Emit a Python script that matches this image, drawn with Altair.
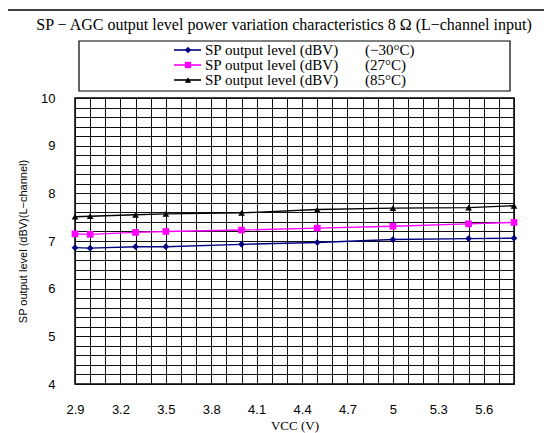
import altair as alt
import pandas as pd

# ---- data ----
vcc = [2.9, 3.0, 3.3, 3.5, 4.0, 4.5, 5.0, 5.5, 5.8]
level_m30 = [6.86, 6.85, 6.88, 6.88, 6.93, 6.97, 7.03, 7.05, 7.06]
level_27 = [7.15, 7.14, 7.18, 7.20, 7.23, 7.27, 7.31, 7.36, 7.39]
level_85 = [7.51, 7.52, 7.55, 7.57, 7.59, 7.66, 7.69, 7.70, 7.74]

series_names = ["SP output level (dBV)  (−30°C)",
                "SP output level (dBV)  (27°C)",
                "SP output level (dBV)  (85°C)"]
legend_left = ["SP output level (dBV)"] * 3
legend_right = ["(−30°C)", "(27°C)", "(85°C)"]
colors = ["#000080", "#FF00FF", "#000000"]
shapes = ["diamond", "square", "triangle-up"]

x_grid = [round(2.9 + 0.1 * i, 1) for i in range(30)]
y_grid = [round(4 + 0.2 * i, 1) for i in range(31)]

title_text = "SP − AGC output level power variation characteristics 8 Ω (L−channel input)"
x_title = "VCC (V)"
y_title = "SP output level  (dBV)(L−channel)"

rows = []
for name, vals in zip(series_names, [level_m30, level_27, level_85]):
    for xv, yv in zip(vcc, vals):
        rows.append({"series": name, "vcc": xv, "level": yv})
df = pd.DataFrame(rows)

color_scale = alt.Scale(domain=series_names, range=colors)
shape_scale = alt.Scale(domain=series_names, range=shapes)

x_enc = alt.X("vcc:Q", scale=alt.Scale(domain=[2.9, 5.8], nice=False, zero=False),
              axis=alt.Axis(values=x_grid, format=".1~f",
                            labelExpr="(round((datum.value - 2.9) * 10) % 3 == 0) ? datum.label : ''",
                            grid=True, gridColor="#111111", gridWidth=1, gridOpacity=1,
                            ticks=False, tickSize=0, domain=False, labelFlush=False,
                            labelOverlap=False, labelFont="Liberation Sans", labelFontSize=13,
                            labelColor="#000000", labelPadding=19,
                            title=x_title, titleFont="Liberation Serif", titleFontSize=13,
                            titleFontWeight="normal", titleColor="#000000", titlePadding=3))
y_enc = alt.Y("level:Q", scale=alt.Scale(domain=[4, 10], nice=False, zero=False),
              axis=alt.Axis(values=y_grid, format=".1~f",
                            labelExpr="(abs(datum.value - round(datum.value)) < 0.001) ? datum.label : ''",
                            grid=True, gridColor="#111111", gridWidth=1, gridOpacity=1,
                            ticks=False, tickSize=0, domain=False,
                            labelOverlap=False, labelFont="Liberation Sans", labelFontSize=13,
                            labelColor="#000000", labelPadding=20,
                            title=y_title, titleFont="Liberation Sans", titleFontSize=11,
                            titleFontWeight="normal", titleColor="#000000", titlePadding=12))

base = alt.Chart(df).encode(
    x=x_enc, y=y_enc,
    color=alt.Color("series:N", scale=color_scale, legend=None),
)
lines = base.mark_line(strokeWidth=1.4)
points = base.mark_point(filled=True, size=45, opacity=1).encode(
    shape=alt.Shape("series:N", scale=shape_scale, legend=None),
)

one = pd.DataFrame({"k": [0]})

# outer frame
frame = alt.Chart(one).mark_rect(fillOpacity=0, stroke="#000000", strokeWidth=1.5).encode(
    x=alt.value(-68), x2=alt.value(520), y=alt.value(-88), y2=alt.value(370))

# title
title = alt.Chart(one).mark_text(font="Liberation Serif", fontSize=16, color="#000000",
                                 align="center", baseline="middle").encode(
    x=alt.value(209), y=alt.value(-73), text=alt.value(title_text))

# legend box and entries
legend_box = alt.Chart(one).mark_rect(fill="#ffffff", stroke="#000000", strokeWidth=1.2).encode(
    x=alt.value(4), x2=alt.value(435), y=alt.value(-57), y2=alt.value(-7))

legend_layers = []
row_y = [-48, -33, -18]
for i in range(3):
    legend_layers.append(alt.Chart(one).mark_rule(strokeWidth=1.6, color=colors[i]).encode(
        x=alt.value(99), x2=alt.value(126), y=alt.value(row_y[i])))
    legend_layers.append(alt.Chart(one).mark_point(filled=True, size=40, opacity=1,
                                                   shape=shapes[i], color=colors[i]).encode(
        x=alt.value(113), y=alt.value(row_y[i])))
    legend_layers.append(alt.Chart(one).mark_text(font="Liberation Serif", fontSize=15,
                                                  color="#000000", align="left",
                                                  baseline="middle").encode(
        x=alt.value(130), y=alt.value(row_y[i]), text=alt.value(legend_left[i])))
    legend_layers.append(alt.Chart(one).mark_text(font="Liberation Serif", fontSize=15,
                                                  color="#000000", align="left",
                                                  baseline="middle").encode(
        x=alt.value(290), y=alt.value(row_y[i]), text=alt.value(legend_right[i])))

chart = alt.layer(frame, title, legend_box, *legend_layers, lines, points).properties(
    width=439, height=286,
    autosize=alt.AutoSizeParams(type="none"),
    padding={"left": 67, "top": 90, "right": 30, "bottom": 52},
    background="#ffffff",
).configure_view(stroke="#000000", strokeWidth=1.5)

chart.save("out.html", embed_options={"renderer": "svg", "actions": False})
